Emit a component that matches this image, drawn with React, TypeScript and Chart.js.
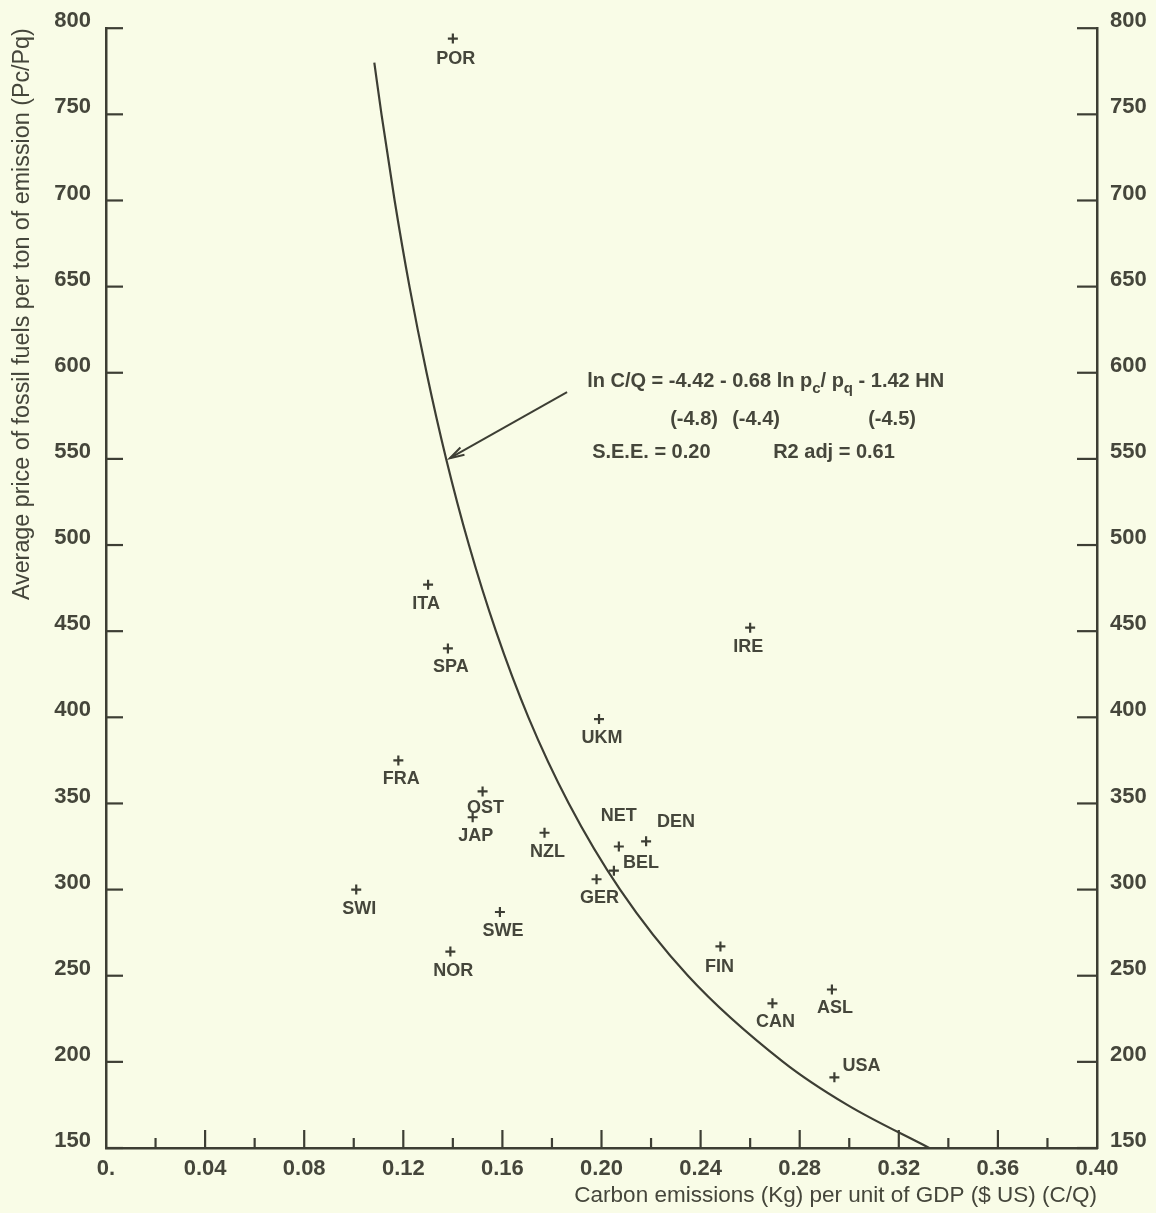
import React, { useEffect, useRef } from 'react';
import { Chart, registerables } from 'chart.js';

Chart.register(...registerables);

// Country codes and their observations
const countries = ['POR', 'ITA', 'SPA', 'IRE', 'UKM', 'FRA', 'OST', 'JAP', 'NZL', 'NET', 'DEN', 'BEL', 'GER', 'SWI', 'SWE', 'NOR', 'FIN', 'CAN', 'ASL', 'USA'];
// Carbon emissions (kg) per unit of GDP ($ US)
const carbonPerGdp = [0.140, 0.130, 0.138, 0.260, 0.199, 0.118, 0.152, 0.148, 0.177, 0.207, 0.218, 0.205, 0.198, 0.101, 0.159, 0.139, 0.248, 0.269, 0.293, 0.294];
// Average price of fossil fuels per ton of emission (Pc/Pq)
const fuelPrice = [794, 477, 440, 452, 399, 375, 357, 342, 333, 325, 328, 311, 306, 300, 287, 264, 267, 234, 242, 191];

// Fitted relation ln C/Q = -4.42 - 0.68 ln pc/pq
const fitPrice = [780, 750, 700, 650, 600, 550, 500, 450, 400, 350, 300, 250, 200, 175, 150];
const fitCarbon = [0.1083, 0.1112, 0.1165, 0.1225, 0.1294, 0.1373, 0.1465, 0.1574, 0.1705, 0.1868, 0.2075, 0.2349, 0.2733, 0.2992, 0.3323];

// Axis ticks
const xTickValues = [0, 0.04, 0.08, 0.12, 0.16, 0.2, 0.24, 0.28, 0.32, 0.36, 0.4];
const xTickLabels = ['0.', '0.04', '0.08', '0.12', '0.16', '0.20', '0.24', '0.28', '0.32', '0.36', '0.40'];
const xMinorValues = [0.02, 0.06, 0.1, 0.14, 0.18, 0.22, 0.26, 0.3, 0.34, 0.38];
const yTickValues = [150, 200, 250, 300, 350, 400, 450, 500, 550, 600, 650, 700, 750, 800];

const xTitle = 'Carbon emissions (Kg) per unit of GDP ($ US) (C/Q)';
const yTitle = 'Average price of fossil fuels per ton of emission (Pc/Pq)';

const INK = '#3d3e34';
const SOFT_INK = '#45463b';
const PAPER = '#f9fce7';
const FONT = '"Liberation Sans", Arial, Helvetica, sans-serif';

// where each country code sits relative to its marker (pixels)
function labelPlacement(code: string): { dx: number; dy: number } {
  switch (code) {
    case 'NET': return { dx: 0, dy: -30 };
    case 'DEN': return { dx: 30, dy: -19 };
    case 'BEL': return { dx: 27, dy: -8 };
    case 'USA': return { dx: 27, dy: -11 };
    case 'OST': return { dx: 3, dy: 17 };
    case 'ITA': return { dx: -2, dy: 19 };
    case 'IRE': return { dx: -2, dy: 19 };
    case 'FIN': return { dx: -1, dy: 21 };
    case 'POR': return { dx: 3, dy: 20 };
    default: return { dx: 3, dy: 19 };
  }
}

const tickFont = { family: FONT, size: 22, weight: 'bold' };

const paperAndInk = {
  id: 'paperAndInk',
  beforeDraw(chart: any) {
    const ctx = chart.ctx;
    ctx.save();
    ctx.fillStyle = PAPER;
    ctx.fillRect(0, 0, chart.width, chart.height);
    ctx.restore();
  },
  afterDraw(chart: any) {
    const { ctx, chartArea: a } = chart;
    const x = chart.scales.x;
    const y = chart.scales.y;
    const seg = (x1: number, y1: number, x2: number, y2: number) => {
      ctx.beginPath();
      ctx.moveTo(x1, y1);
      ctx.lineTo(x2, y2);
      ctx.stroke();
    };
    ctx.save();
    ctx.strokeStyle = INK;
    ctx.lineWidth = 2.2;

    // inward tick marks on both value axes
    yTickValues.forEach((v) => {
      const py = y.getPixelForValue(v);
      seg(a.left, py, a.left + 17, py);
      seg(a.right - 20, py, a.right, py);
    });
    // major and minor ticks on the horizontal axis
    xTickValues.forEach((v) => {
      if (v <= 0 || v >= 0.4) return;
      const px = x.getPixelForValue(v);
      seg(px, a.bottom, px, a.bottom - 18);
    });
    xMinorValues.forEach((v) => {
      const px = x.getPixelForValue(v);
      seg(px, a.bottom, px, a.bottom - 10);
    });

    // country codes
    const meta = chart.getDatasetMeta(0);
    ctx.fillStyle = SOFT_INK;
    ctx.font = `bold 18px ${FONT}`;
    ctx.textAlign = 'center';
    ctx.textBaseline = 'middle';
    meta.data.forEach((pt: any, i: number) => {
      const p = labelPlacement(countries[i]);
      ctx.fillText(countries[i], pt.x + p.dx, pt.y + p.dy);
    });

    // arrow from the equation to the fitted line
    const sx = x.getPixelForValue(0.1861);
    const sy = y.getPixelForValue(588.7);
    const tx = x.getPixelForValue(0.1388);
    const ty = y.getPixelForValue(550.4);
    ctx.lineWidth = 2;
    seg(sx, sy, tx, ty);
    const ang = Math.atan2(sy - ty, sx - tx);
    const head = 15;
    const spread = 0.28;
    ctx.beginPath();
    ctx.moveTo(tx + head * Math.cos(ang - spread), ty + head * Math.sin(ang - spread));
    ctx.lineTo(tx, ty);
    ctx.lineTo(tx + head * Math.cos(ang + spread), ty + head * Math.sin(ang + spread));
    ctx.stroke();

    // regression equation
    const ex = x.getPixelForValue(0.1942);
    const ey = y.getPixelForValue(595);
    const main = `bold 20px ${FONT}`;
    const sub = `bold 15px ${FONT}`;
    ctx.textAlign = 'left';
    ctx.textBaseline = 'middle';
    let cx = ex;
    const put = (t: string, f: string, dy: number) => {
      ctx.font = f;
      ctx.fillText(t, cx, ey + dy);
      cx += ctx.measureText(t).width;
    };
    put('ln C/Q = -4.42 - 0.68 ln p', main, 0);
    put('c', sub, 7);
    put('/ p', main, 0);
    put('q', sub, 7);
    put(' - 1.42 HN', main, 0);

    ctx.font = main;
    ctx.fillText('(-4.8)', ex + 83, ey + 38);
    ctx.fillText('(-4.4)', ex + 145, ey + 38);
    ctx.fillText('(-4.5)', ex + 281, ey + 38);
    ctx.fillText('S.E.E. = 0.20', ex + 5, ey + 71);
    ctx.fillText('R2 adj = 0.61', ex + 186, ey + 71);
    ctx.restore();
  },
};

export default function App() {
  const canvasRef = useRef<HTMLCanvasElement | null>(null);

  useEffect(() => {
    document.body.style.margin = '0';
    document.body.style.background = PAPER;
    const canvas = canvasRef.current;
    if (!canvas) return;

    const points = carbonPerGdp.map((c, i) => ({ x: c, y: fuelPrice[i] }));
    const fitLine = fitCarbon.map((c, i) => ({ x: c, y: fitPrice[i] }));

    const setTicks = (values: number[]) => (scale: any) => {
      scale.ticks = values.map((v) => ({ value: v }));
    };

    const chart = new Chart(canvas, {
      type: 'scatter',
      data: {
        datasets: [
          {
            label: 'Countries',
            data: points,
            pointStyle: 'cross',
            pointRadius: 5,
            pointBorderWidth: 2.2,
            borderColor: INK,
            backgroundColor: INK,
            showLine: false,
          },
          {
            label: 'Fitted',
            data: fitLine,
            showLine: true,
            pointRadius: 0,
            borderColor: INK,
            borderWidth: 2.2,
            cubicInterpolationMode: 'monotone',
            fill: false,
          },
        ],
      },
      options: {
        responsive: false,
        animation: false,
        devicePixelRatio: 1,
        layout: { padding: { top: 28, left: 0, right: 0, bottom: 0 } },
        plugins: {
          legend: { display: false },
          tooltip: { enabled: false },
        },
        scales: {
          x: {
            type: 'linear',
            min: 0,
            max: 0.4,
            afterBuildTicks: setTicks(xTickValues),
            afterFit: (s: any) => { s.height = 65; },
            grid: { display: false, drawTicks: false },
            border: { display: true, color: INK, width: 2.5 },
            ticks: {
              callback: (_v: any, i: number) => xTickLabels[i],
              font: tickFont,
              color: SOFT_INK,
              padding: 8,
              maxRotation: 0,
              autoSkip: false,
            },
            title: {
              display: true,
              text: xTitle,
              align: 'end',
              color: SOFT_INK,
              font: { family: FONT, size: 22.5 },
              padding: { top: 0, bottom: 4 },
            },
          },
          y: {
            type: 'linear',
            position: 'left',
            min: 150,
            max: 800,
            afterBuildTicks: setTicks(yTickValues),
            afterFit: (s: any) => { s.width = 106; },
            grid: { display: false, drawTicks: false },
            border: { display: true, color: INK, width: 2.5 },
            ticks: {
              callback: (v: any) => String(v),
              font: tickFont,
              color: SOFT_INK,
              padding: 15,
              labelOffset: -7,
              autoSkip: false,
            },
            title: {
              display: true,
              text: yTitle,
              align: 'end',
              color: SOFT_INK,
              font: { family: FONT, size: 23.3 },
              padding: { top: 9, bottom: 0 },
            },
          },
          y2: {
            type: 'linear',
            position: 'right',
            min: 150,
            max: 800,
            afterBuildTicks: setTicks(yTickValues),
            afterFit: (s: any) => { s.width = 59; },
            grid: { display: false, drawTicks: false },
            border: { display: true, color: INK, width: 2.5 },
            ticks: {
              callback: (v: any) => String(v),
              font: tickFont,
              color: SOFT_INK,
              padding: 13,
              labelOffset: -7,
              autoSkip: false,
            },
          },
        },
      } as any,
      plugins: [paperAndInk],
    });

    return () => chart.destroy();
  }, []);

  return (
    <canvas
      ref={canvasRef}
      width={1156}
      height={1213}
      style={{ display: 'block', width: 1156, height: 1213 }}
    />
  );
}
